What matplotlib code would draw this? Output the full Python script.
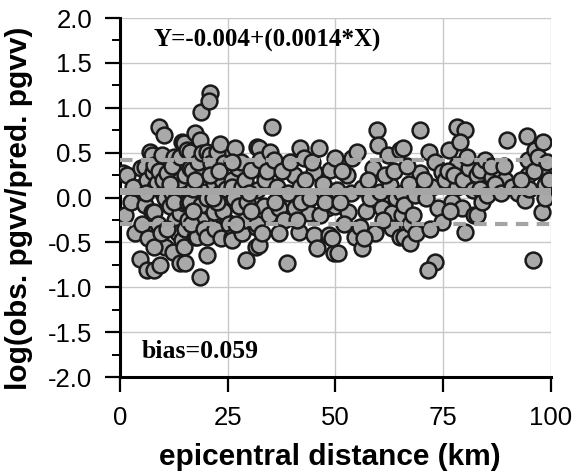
import matplotlib
matplotlib.use("Agg")
import matplotlib.pyplot as plt
from matplotlib.ticker import MultipleLocator

# Residual data (epicentral distance in km, log residual)
points = [
    (0.8,0.27),(1.2,-0.20),(1.6,0.25),(2.5,-0.05),(3.5,-0.40),(4.2,0.11),(4.6,-0.68),(5.0,-0.30),(3.0,0.12),(4.8,0.33),
    (5.8,0.34),(5.8,-0.08),(6.2,0.19),(6.2,-0.81),(6.9,0.51),(7.4,0.47),(7.4,-0.16),(7.6,0.28),(7.9,-0.16),(7.9,0.36),
    (7.9,-0.81),(8.1,0.12),(8.5,0.16),(8.8,-0.29),(9.0,0.79),(9.2,-0.75),(9.7,0.47),(9.9,0.05),(10.2,0.70),(10.4,0.00),
    (10.4,-0.55),(10.9,0.27),(6.5,-0.45),(8.0,-0.55),(9.5,-0.40),(6.0,0.05),(9.0,0.30),(10.0,0.20),
    (11.0,0.27),(11.5,-0.10),(12.2,-0.61),(12.5,0.45),(12.0,0.05),(12.8,-0.25),(13.2,0.05),(13.4,-0.40),(13.6,0.36),(13.9,0.19),
    (13.9,-0.08),(13.9,-0.17),(13.9,-0.73),(14.3,-0.47),(14.5,0.62),(14.8,0.61),(14.8,-0.55),(14.8,-0.06),(11.5,0.15),(12.0,0.35),
    (11.0,-0.35),(12.5,-0.05),(14.0,0.45),(15.0,0.25),(15.0,-0.35),
    (15.5,0.53),(15.7,-0.06),(15.7,-0.25),(15.0,-0.73),(16.2,0.51),(16.2,0.33),(16.2,-0.05),(16.6,0.31),(17.3,0.72),(17.3,-0.44),
    (17.8,-0.44),(18.5,0.64),(18.5,-0.12),(18.5,-0.89),(18.7,0.95),(18.9,-0.08),(18.9,-0.25),(19.2,0.27),(19.6,0.06),(17.0,0.10),
    (17.5,0.20),(18.0,0.40),(16.5,-0.30),(19.0,0.50),(19.5,-0.35),(17.0,-0.15),
    (20.1,-0.01),(20.3,0.51),(20.3,-0.44),(20.3,-0.64),(20.8,0.47),(20.8,1.16),(20.6,1.07),(21.2,0.38),(21.9,0.16),(21.9,-0.16),
    (22.6,0.51),(23.1,0.60),(23.1,0.05),(23.6,0.19),(24.2,0.38),(24.9,-0.06),(24.9,-0.27),(21.0,0.25),(22.0,-0.35),(23.0,0.30),
    (24.0,-0.15),(22.5,-0.05),(21.5,0.00),(24.5,0.10),(23.5,-0.45),
    (25.4,-0.29),(25.9,0.19),(25.9,0.12),(25.9,-0.44),(25.9,-0.47),(26.6,0.55),(27.3,0.33),(28.2,-0.40),(28.4,0.12),(28.9,-0.25),
    (29.3,-0.70),(26.5,0.00),(27.5,-0.10),(28.0,0.40),(29.0,0.20),(29.5,-0.05),(27.0,-0.30),(26.0,0.40),
    (30.5,0.31),(31.6,-0.33),(31.6,-0.55),(31.9,0.08),(31.9,0.56),(32.3,0.55),(32.6,0.42),(32.3,-0.53),(31.9,-0.29),(33.5,-0.10),
    (33.7,0.19),(34.9,0.51),(30.5,-0.15),(34.0,0.30),(33.0,-0.40),(30.0,0.05),(34.5,-0.20),
    (35.3,0.79),(35.8,0.42),(36.5,0.12),(36.9,-0.12),(38.8,-0.73),(40.4,0.25),(40.6,-0.12),(37.5,0.30),(38.0,-0.25),(39.0,0.05),
    (37.0,-0.40),(39.5,0.40),(36.0,-0.05),
    (41.8,0.55),(41.8,0.12),(41.6,-0.38),(42.7,0.44),(43.9,-0.17),(45.0,0.28),(45.0,-0.42),(43.0,0.20),(42.0,-0.05),(44.0,0.00),
    (41.0,-0.25),(44.5,0.40),
    (46.2,0.55),(45.7,-0.56),(48.7,0.31),(48.0,0.08),(48.0,-0.12),(48.5,-0.42),(49.7,-0.62),(49.9,0.44),(49.9,-0.10),(49.2,-0.45),
    (47.0,0.15),(46.5,-0.20),(47.5,-0.05),
    (50.3,0.08),(50.6,-0.62),(52.7,0.25),(52.9,-0.16),(53.8,0.44),(54.5,-0.44),(51.5,0.30),(52.0,-0.30),(53.5,0.05),(51.0,-0.05),
    (55.0,0.51),(55.7,-0.33),(56.1,0.11),(56.1,-0.56),(58.7,0.33),(58.7,-0.06),(59.1,-0.40),(59.6,0.75),(59.8,0.58),(57.0,-0.15),
    (57.5,0.20),(56.5,-0.45),(58.0,0.00),
    (60.3,0.06),(60.7,-0.12),(62.1,0.47),(62.6,0.14),(63.0,-0.17),(63.0,-0.34),(64.9,0.53),(64.9,-0.44),(61.5,0.25),(61.0,-0.25),
    (63.5,0.30),(64.0,0.00),
    (65.4,0.05),(65.4,-0.20),(65.6,0.55),(66.0,-0.08),(66.0,-0.44),(67.2,-0.29),(67.4,-0.51),(68.4,0.03),(68.6,-0.40),(69.5,0.27),
    (69.7,0.75),(67.0,0.15),(68.0,-0.20),(66.5,0.35),
    (71.8,0.51),(73.0,0.40),(74.8,0.28),(72.5,0.12),(73.7,-0.12),(74.8,-0.27),(73.2,-0.72),(71.4,-0.81),(71.0,0.00),(72.0,-0.35),
    (75.5,0.19),(70.5,0.20),
    (76.4,0.53),(78.3,0.79),(80.1,0.75),(79.0,0.62),(78.3,0.36),(78.3,0.12),(77.1,-0.05),(79.4,-0.12),(80.1,-0.38),(76.0,0.30),
    (77.5,0.25),(79.5,0.20),(76.5,-0.15),
    (81.0,0.33),(82.9,0.25),(81.8,0.08),(82.2,-0.20),(82.9,-0.20),(83.6,0.31),(84.8,0.42),(80.5,0.45),(83.5,0.10),(84.0,-0.05),
    (85.2,0.03),(86.4,0.23),(88.2,0.31),(89.4,0.19),(89.8,0.64),(87.0,0.15),(88.5,0.05),(86.0,0.35),(89.0,0.35),
    (91.0,0.12),(92.4,0.05),(94.0,-0.03),(94.5,0.68),(94.7,0.42),(94.7,0.25),(95.8,-0.70),(96.3,0.53),(97.9,0.31),(97.9,-0.16),
    (98.2,0.62),(98.6,0.14),(98.6,-0.01),(96.0,0.30),(95.0,0.10),(97.0,0.45),(99.0,0.40),(93.0,0.20),(99.5,0.20),
]
distance = [p[0] for p in points]
residual = [p[1] for p in points]

mean_level = 0.07
std_upper = 0.42
std_lower = -0.29

x_ticks = [0, 25, 50, 75, 100]
y_ticks = [-2.0, -1.5, -1.0, -0.5, 0.0, 0.5, 1.0, 1.5, 2.0]

fig = plt.figure(figsize=(5.76, 4.74), dpi=100)
ax = fig.add_axes([0.2083, 0.2046, 0.7483, 0.7574])

ax.set_xlim(0, 100)
ax.set_ylim(-2.0, 2.0)

ax.scatter(distance, residual, s=130, facecolor='#a9a9a9', edgecolor='#1a1a1a',
           linewidths=1.8, zorder=3)

ax.axhline(mean_level, color='#a5a5a5', lw=5, zorder=4)
ax.axhline(std_upper, color='#a5a5a5', lw=3, ls=(0, (3, 2)), zorder=4)
ax.axhline(std_lower, color='#a5a5a5', lw=3, ls=(0, (3, 2)), zorder=4)

ax.set_xticks(x_ticks)
ax.set_yticks(y_ticks)
ax.set_yticklabels([f"{v:.1f}" for v in y_ticks])
ax.yaxis.set_minor_locator(MultipleLocator(0.25))
ax.grid(True, which='major', color='#c8c8c8', lw=1.0, zorder=0)
ax.set_axisbelow(True)

for s in ['top', 'right']:
    ax.spines[s].set_visible(False)
for s in ['left', 'bottom']:
    ax.spines[s].set_linewidth(2.2)
    ax.spines[s].set_color('black')

ax.tick_params(axis='both', which='major', direction='out', length=11, width=1.6,
               labelsize=18.5)
ax.tick_params(axis='y', which='major', pad=9)
ax.tick_params(axis='y', which='minor', direction='out', length=6, width=1.4)
ax.tick_params(axis='x', which='major', length=11, pad=10)

for lab in ax.get_xticklabels() + ax.get_yticklabels():
    lab.set_family(['Liberation Sans', 'DejaVu Sans'])

ax.set_xlabel('epicentral distance (km)', fontsize=21.5, fontweight='bold',
              family=['Liberation Sans', 'DejaVu Sans'])
ax.set_ylabel('log(obs. pgvv/pred. pgvv)', fontsize=21.5, fontweight='bold',
              family=['Liberation Sans', 'DejaVu Sans'])
ax.xaxis.set_label_coords(0.487, -0.183)
ax.yaxis.label.set_va('center')
ax.yaxis.set_label_coords(-0.235, 0.47)

ax.text(7.7, 1.75, 'Y=-0.004+(0.0014*X)', fontsize=18, fontweight='bold',
        family=['Liberation Serif', 'DejaVu Serif'], va='center', ha='left', zorder=5)
ax.text(5.0, -1.72, 'bias=0.059', fontsize=18.5, fontweight='bold',
        family=['Liberation Serif', 'DejaVu Serif'], va='center', ha='left', zorder=5)

fig.savefig('out.png', dpi=100)
